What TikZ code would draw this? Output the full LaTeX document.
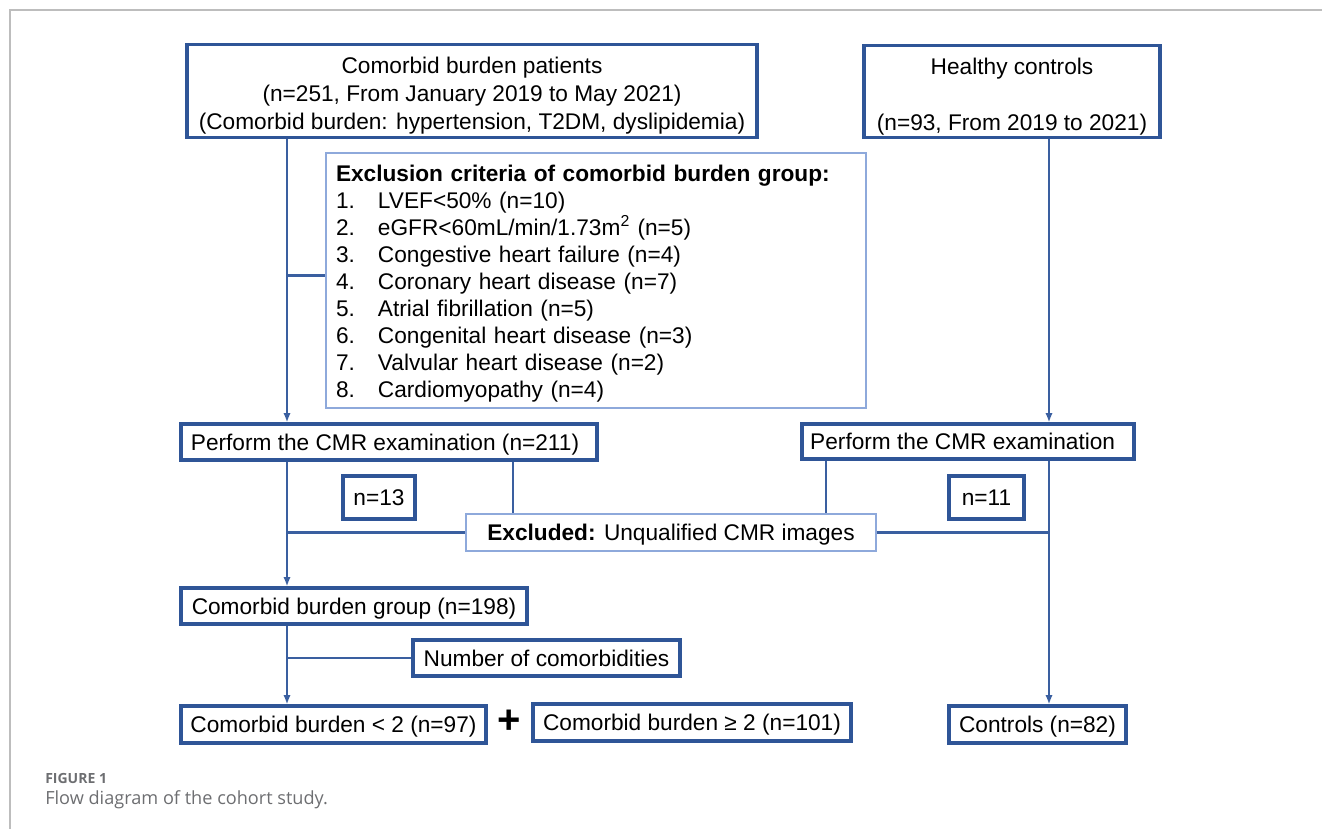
\documentclass[tikz,border=0pt]{standalone}
\usepackage{fontspec}
\setmainfont{Liberation Sans}
\newfontfamily\capfont{Open Sans}
\usepackage{xcolor}
\usetikzlibrary{positioning,calc,arrows.meta}

\definecolor{boxblue}{HTML}{2F5597}
\definecolor{lineblue}{HTML}{3A5FA0}
\definecolor{paleblue}{HTML}{8EA9DB}
\definecolor{framegray}{HTML}{BDBDBD}
\definecolor{capgray}{HTML}{6D6E71}

\begin{document}
\begin{tikzpicture}[
  x=0.75pt, y=-0.75pt,
  box/.style={draw=boxblue, line width=2.3pt, inner sep=2pt,
    font=\fontsize{17}{21}\selectfont, align=center},
  row/.style={box, text depth=0pt},
  pale/.style={draw=paleblue, line width=1.1pt, inner sep=2pt,
    font=\fontsize{17}{20.3}\selectfont},
  line/.style={lineblue, line width=1.9pt},
  arr/.style={line, -{Latex[length=7pt,width=5.5pt]}}
]
\useasboundingbox (0,0) rectangle (1322,829);
% ---- frame ----
\draw[framegray, line width=1.2pt] (9,10) -- (1322,10);
\draw[framegray, line width=1.2pt] (10,10) -- (10,829);

% ---- patients (left) ----
\node[box, minimum width=427.5pt, minimum height=67.5pt] (pat) at (472,91)
  {\rule{0pt}{20pt}Comorbid burden patients\\
   (n=251, From January 2019 to May 2021)\\
   (Comorbid burden: hypertension, T2DM, dyslipidemia)};

\node[pale, minimum width=405pt, minimum height=191.25pt,
  text width=390pt, inner xsep=7.5pt, align=left] (excl) at (596,280.5)
  {\rule{0pt}{17pt}\textbf{Exclusion criteria of comorbid burden group:}\\
   \makebox[31.5pt][l]{1.}LVEF<50\% (n=10)\\
   \makebox[31.5pt][l]{2.}eGFR<60mL/min/1.73m\textsuperscript{2} (n=5)\\
   \makebox[31.5pt][l]{3.}Congestive heart failure (n=4)\\
   \makebox[31.5pt][l]{4.}Coronary heart disease (n=7)\\
   \makebox[31.5pt][l]{5.}Atrial fibrillation (n=5)\\
   \makebox[31.5pt][l]{6.}Congenital heart disease (n=3)\\
   \makebox[31.5pt][l]{7.}Valvular heart disease (n=2)\\
   \makebox[31.5pt][l]{8.}Cardiomyopathy (n=4)};

\node[row, minimum width=312pt, minimum height=27pt] (cmr1) at (389,442)
  {Perform the CMR examination (n=211)\hspace{6pt}};
\node[row, minimum width=54pt, minimum height=32.25pt] (n13) at (379,497.5)
  {n=13};
\node[row, minimum width=259.5pt, minimum height=27pt] (grp) at (354,606)
  {Comorbid burden group (n=198)};
\node[row, minimum width=200.25pt, minimum height=27pt] (ncom) at (546.5,658)
  {Number of comorbidities};
\node[row, minimum width=228.75pt, minimum height=27.75pt] (lt2) at (333.5,724.5)
  {Comorbid burden < 2 (n=97)};
\node[font=\bfseries\fontsize{30}{30}\selectfont, inner sep=0pt] (plus) at (509,722)
  {+};
\node[row, minimum width=238.5pt, minimum height=27.75pt] (ge2) at (692,722.5)
  {Comorbid burden ≥ 2 (n=101)};

% ---- controls (right) ----
\node[box, minimum width=222pt, minimum height=68.25pt] (hc) at (1012,91.5)
  {\rule{0pt}{20pt}Healthy controls\\ \mbox{}\\ (n=93, From 2019 to 2021)};
\node[row, minimum width=249pt, minimum height=26.25pt] (cmr2) at (968,441.5)
  {Perform the CMR examination\hspace{8pt}};
\node[row, minimum width=56.25pt, minimum height=32.25pt] (n11) at (986.5,497.5)
  {n=11};
\node[row, minimum width=132.75pt, minimum height=27.75pt] (ctrl) at (1037.5,724.5)
  {Controls (n=82)};

% ---- shared exclusion ----
\node[pale, text depth=0pt, minimum width=307.5pt, minimum height=27.75pt]
  (unq) at (671,532.5) {\textbf{Excluded:} Unqualified CMR images};

% ---- connectors ----
\coordinate (lx) at (287,0);
\coordinate (rx) at (1049,0);
\coordinate (ux1) at (513,0);
\coordinate (ux2) at (826,0);

\draw[arr] (pat.south -| lx) -- (cmr1.north -| lx);
\draw[line] ([yshift=3.75pt]excl.west -| lx) -- ([yshift=3.75pt]excl.west);
\draw[arr] (hc.south -| rx) -- (cmr2.north -| rx);

\draw[arr] (cmr1.south -| lx) -- (grp.north -| lx);
\draw[line] (cmr1.south -| ux1) -- (unq.north -| ux1);
\draw[line] (cmr2.south -| ux2) -- (unq.north -| ux2);
\draw[line] (unq.west -| lx) -- (unq.west);
\draw[line] (unq.east) -- (unq.east -| rx);
\draw[arr] (cmr2.south -| rx) -- (ctrl.north -| rx);

\draw[arr] (grp.south -| lx) -- (lt2.north -| lx);
\draw[line] (ncom.west -| lx) -- (ncom.west);

% ---- caption ----
\node[anchor=west, inner sep=0pt, text=capgray,
  font=\capfont\bfseries\fontsize{10.5}{12}\selectfont] (cap1) at (45,778)
  {FIGURE 1};
\node[anchor=west, inner sep=0pt, text=capgray,
  font=\capfont\fontsize{13.6}{16}\selectfont] (cap2) at (45,800)
  {Flow diagram of the cohort study.};
\end{tikzpicture}
\end{document}
